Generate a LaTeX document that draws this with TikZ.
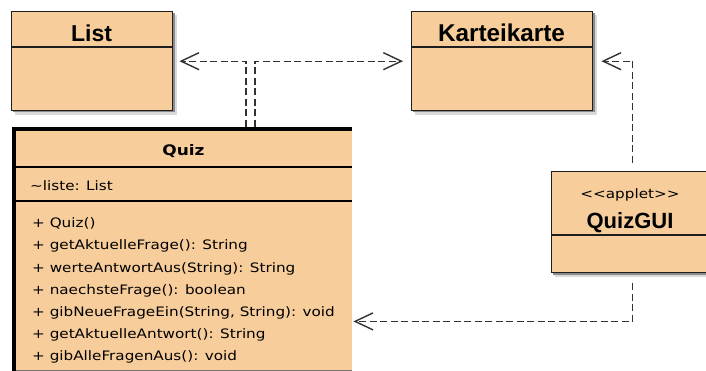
\documentclass[tikz,border=0pt]{standalone}
\usepackage{fontspec}
\newfontfamily\umlfont[FakeStretch=1.17]{DejaVu Sans}
\newfontfamily\titlefont{Liberation Sans}
\usetikzlibrary{arrows.meta}
\definecolor{classfill}{RGB}{247,206,155}
\definecolor{edgecol}{RGB}{30,30,30}
\definecolor{conncol}{RGB}{50,50,50}
\tikzset{
  classbox/.style={draw=edgecol, line width=1.4pt, fill=classfill, inner sep=0pt, anchor=north west},
  shadowfar/.style={fill=black!15, draw=none},
  shadownear/.style={fill=black!45, draw=none},
  divider/.style={draw=edgecol, line width=1.4pt},
  dep/.style={draw=conncol, line width=1.3pt, dash pattern=on 7pt off 3.5pt,
    -{Straight Barb[length=18pt,width=17pt,line width=1.4pt]}},
  bigtitle/.style={anchor=base, inner sep=0pt, font=\titlefont\bfseries},
  member/.style={anchor=base west, inner sep=0pt, font=\umlfont\fontsize{13}{15}\selectfont},
}
\begin{document}
\begin{tikzpicture}[x=1pt,y=-1pt]
\useasboundingbox (0,0) rectangle (706,371);
\clip (0,0) rectangle (706,371);
\fill[white] (0,0) rectangle (706,371);

% List
\fill[shadowfar] (15,15) rectangle (177,115);
\fill[shadownear] (13,13) rectangle (174.5,112.5);
\node[classbox, minimum width=161pt, minimum height=99pt] (list) at (11,11) {};
\draw[divider] (list.north west) ++(0,36) -- ++(161,0);
\node[bigtitle, font=\titlefont\bfseries\fontsize{23}{23}\selectfont] (listname) at (91.5,42) {List};

% Karteikarte
\fill[shadowfar] (415,15) rectangle (597,115);
\fill[shadownear] (413,13) rectangle (594.5,112.5);
\node[classbox, minimum width=181pt, minimum height=99pt] (karte) at (411,11) {};
\draw[divider] (karte.north west) ++(0,36) -- ++(181,0);
\node[bigtitle, font=\titlefont\bfseries\fontsize{24.3}{24}\selectfont] (kartename) at (501.5,42) {Karteikarte};

% QuizGUI
\fill[shadowfar] (555,175) rectangle (714,277);
\fill[shadownear] (553,173) rectangle (713,274.5);
\node[classbox, minimum width=160pt, minimum height=101pt] (gui) at (551,171) {};
\draw[divider] (gui.north west) ++(0,64) -- ++(160,0);
\node[anchor=base, inner sep=0pt, font=\umlfont\fontsize{13}{15}\selectfont] (guistereo) at (630,199) {<<applet>>};
\node[bigtitle, font=\titlefont\bfseries\fontsize{22}{22}\selectfont] (guiname) at (630,229) {QuizGUI};

% Quiz
\node[fill=classfill, inner sep=0pt, minimum width=339pt, minimum height=243pt, anchor=north west] (quiz) at (13,127) {};
\draw[black!55, line width=1pt] (quiz.south west) -- (quiz.south east);
\draw[black, line width=4pt] (14,371) -- (14,129) -- (352,129);
\draw[black, line width=2pt] (14,167) -- (352,167);
\draw[black, line width=2pt] (14,201) -- (352,201);
\node[anchor=base, inner sep=0pt, font=\umlfont\bfseries\fontsize{14.5}{16}\selectfont] (quizname) at (183.5,155.5) {Quiz};
\node[member] (attr) at (30,191) {\textasciitilde liste: List};
\node[member] (m1) at (32,228) {+ Quiz()};
\node[member] (m2) at (32,250) {+ getAktuelleFrage(): String};
\node[member] (m3) at (32,272) {+ werteAntwortAus(String): String};
\node[member] (m4) at (32,294) {+ naechsteFrage(): boolean};
\node[member] (m5) at (32,316) {+ gibNeueFrageEin(String, String): void};
\node[member] (m6) at (32,338) {+ getAktuelleAntwort(): String};
\node[member] (m7) at (32,360) {+ gibAlleFragenAus(): void};

% connectors
\draw[dep] ([xshift=233pt]quiz.north west) |- ([xshift=6pt]list.east);
\draw[dep] ([xshift=242pt]quiz.north west) |- ([xshift=-8pt]karte.west);
\draw[dep] ([xshift=1pt,yshift=8pt]gui.north) |- ([xshift=8pt]karte.east);
\draw[dep] ([xshift=1pt,yshift=-10pt]gui.south) |- ([xshift=1pt,yshift=49pt]quiz.south east);
\end{tikzpicture}
\end{document}
